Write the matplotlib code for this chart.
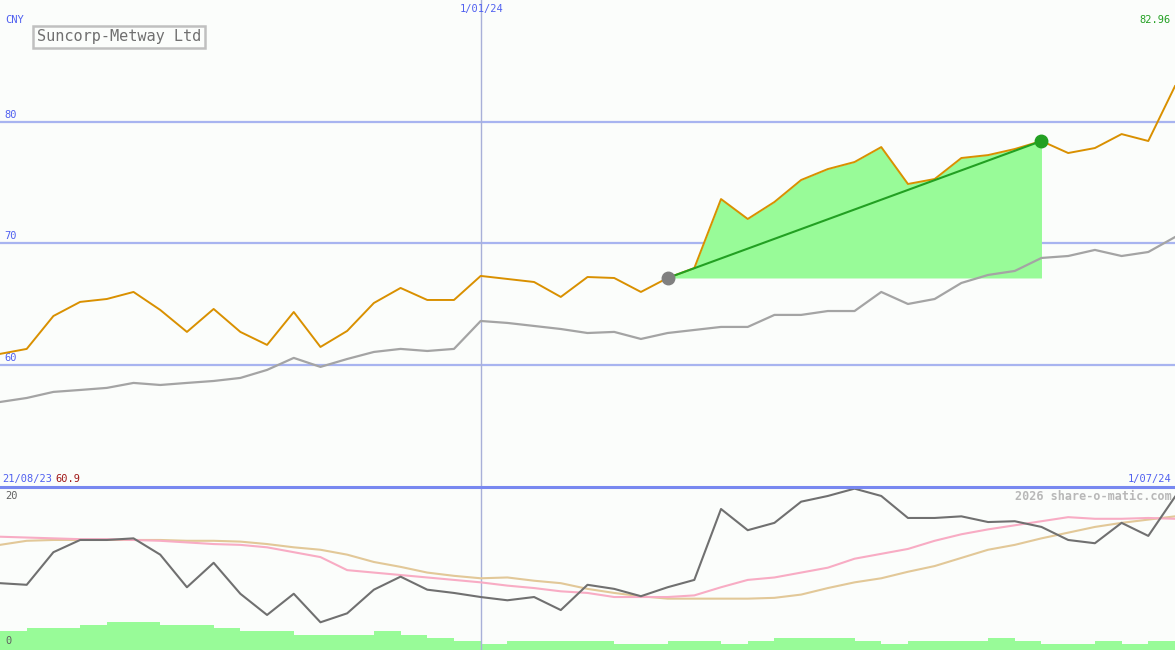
import numpy as np
import matplotlib.pyplot as plt

# weekly closes (orange) and comparison index (gray)
price = [60.91, 61.32, 64.03, 65.19, 65.43, 66.01, 64.53, 62.72, 64.61, 62.72,
         61.65, 64.36, 61.48, 62.80, 65.10, 66.34, 65.35, 65.35, 67.33, 67.08,
         66.83, 65.60, 67.24, 67.16, 66.01, 67.16, 67.98, 73.66, 72.02, 73.42,
         75.23, 76.13, 76.71, 77.94, 74.90, 75.31, 77.04, 77.28, 77.78, 78.44,
         77.45, 77.86, 79.01, 78.44, 82.96]
index_line = [56.95, 57.28, 57.78, 57.94, 58.11, 58.52, 58.35, 58.52, 58.68, 58.93,
              59.59, 60.58, 59.84, 60.49, 61.07, 61.32, 61.15, 61.32, 63.62, 63.46,
              63.21, 62.96, 62.63, 62.72, 62.14, 62.63, 62.88, 63.13, 63.13, 64.12,
              64.12, 64.44, 64.44, 66.01, 65.02, 65.43, 66.75, 67.41, 67.74, 68.81,
              68.97, 69.47, 68.97, 69.30, 70.53]

# lower panel indicator values (0..20 scale)
osc = [8.2, 8.0, 12.0, 13.5, 13.5, 13.7, 11.7, 7.7, 10.7, 6.9,
       4.3, 6.9, 3.4, 4.5, 7.4, 9.0, 7.4, 7.0, 6.5, 6.1,
       6.5, 4.9, 8.0, 7.5, 6.6, 7.7, 8.6, 17.3, 14.7, 15.6,
       18.2, 18.9, 19.8, 18.9, 16.2, 16.2, 16.4, 15.7, 15.8, 15.1,
       13.5, 13.1, 15.6, 14.0, 18.8]
ma_pink = [13.9, 13.8, 13.7, 13.6, 13.6, 13.5, 13.4, 13.2, 13.0, 12.9,
           12.6, 12.0, 11.4, 9.8, 9.5, 9.2, 8.9, 8.6, 8.3, 7.9,
           7.6, 7.2, 7.0, 6.5, 6.5, 6.5, 6.7, 7.7, 8.6, 8.9,
           9.5, 10.1, 11.2, 11.8, 12.4, 13.4, 14.2, 14.8, 15.3, 15.8,
           16.3, 16.1, 16.1, 16.2, 16.1]
ma_tan = [12.9, 13.4, 13.5, 13.5, 13.5, 13.5, 13.5, 13.4, 13.4, 13.3,
          13.0, 12.6, 12.3, 11.7, 10.8, 10.2, 9.5, 9.1, 8.8, 8.9,
          8.5, 8.2, 7.5, 7.0, 6.6, 6.3, 6.3, 6.3, 6.3, 6.4,
          6.8, 7.6, 8.3, 8.8, 9.6, 10.3, 11.3, 12.3, 12.9, 13.7,
          14.4, 15.1, 15.6, 16.0, 16.4]
volume = [6.3, 7.3, 7.3, 8.3, 9.3, 9.3, 8.3, 8.3, 7.3, 6.3,
          6.3, 5.0, 5.0, 5.0, 6.3, 5.0, 4.0, 3.0, 2.0, 3.0,
          3.0, 3.0, 3.0, 2.0, 2.0, 3.0, 3.0, 2.0, 3.0, 4.0,
          4.0, 4.0, 3.0, 2.0, 3.0, 3.0, 3.0, 4.0, 3.0, 2.0,
          2.0, 3.0, 2.0, 3.0]

x = np.arange(len(price))
i0, i1 = 25, 39      # start / end of highlighted trend
ivline = 18          # 1/01/24

bg = '#fbfdfb'
gridc = '#a8b4f0'
fig = plt.figure(figsize=(11.75, 6.5), dpi=100, facecolor=bg)
ax = fig.add_axes([0, 163/650, 1, 487/650], facecolor=bg)
ax2 = fig.add_axes([0, 0, 1, 163/650], facecolor=bg)

mono = 'DejaVu Sans Mono'
fs = 7.5

# top panel
for yv in [60, 70, 80]:
    ax.axhline(yv, color=gridc, lw=1.6, zorder=1)
    ax.text(0.004, yv + 0.2, str(yv), transform=ax.get_yaxis_transform(),
            color='#5060f0', fontsize=fs, family=mono, va='bottom', ha='left')
ax.axvline(ivline, color='#a8b0d8', lw=1, zorder=1)
ax.fill_between(x[i0:i1+1], price[i0], price[i0:i1+1], color='#98fb98', lw=0, zorder=2)
ax.plot(x, index_line, color='#a4a4a4', lw=1.6, zorder=3)
ax.plot(x, price, color='#d99000', lw=1.4, zorder=4)
ax.plot([x[i0], x[i1]], [price[i0], price[i1]], color='#22a022', lw=1.5, zorder=5)
ax.plot(x[i0], price[i0], 'o', color='#808080', ms=9, zorder=6)
ax.plot(x[i1], price[i1], 'o', color='#22a022', ms=9, zorder=6)
ax.set_xlim(0, len(price) - 1)
ax.set_ylim(49.95, 90.05)
ax.axis('off')

# bottom panel
axv = ax2.twinx()
axv.bar(x[:-1], volume, width=1.0, align='edge', color='#98fb98', lw=0)
axv.set_ylim(0, 54)
axv.axis('off')
ax2.set_zorder(axv.get_zorder() + 1)
ax2.patch.set_visible(False)
ax2.axvline(ivline, color='#a8b0d8', lw=1)
ax2.plot(x, ma_tan, color='#e2c898', lw=1.5)
ax2.plot(x, ma_pink, color='#f8acc4', lw=1.5)
ax2.plot(x, osc, color='#707070', lw=1.5)
ax2.set_xlim(0, len(price) - 1)
ax2.set_ylim(0, 20)
ax2.axis('off')

# separator line between panels
fig.add_artist(plt.Line2D([0, 1], [163/650, 163/650], color='#7888f0', lw=2.2))

def px(xp, yp):
    return xp / 1175, 1 - yp / 650

fig.text(*px(5, 20), 'CNY', color='#5060f0', fontsize=fs, family=mono, va='center')
fig.text(*px(482, 9), '1/01/24', color='#5060f0', fontsize=fs, family=mono, va='center', ha='center')
fig.text(*px(1171, 20), '82.96', color='#22a022', fontsize=fs, family=mono, va='center', ha='right')
fig.text(*px(2, 479), '21/08/23', color='#5060f0', fontsize=fs, family=mono, va='center')
fig.text(*px(55, 479), '60.9', color='#a01818', fontsize=fs, family=mono, va='center')
fig.text(*px(1171, 479), '1/07/24', color='#5060f0', fontsize=fs, family=mono, va='center', ha='right')
fig.text(*px(5, 496), '20', color='#606060', fontsize=fs, family=mono, va='center')
fig.text(*px(5, 641), '0', color='#606060', fontsize=fs, family=mono, va='center')
fig.text(*px(1172, 496), '2026 share-o-matic.com', color='#b8b8b8', fontsize=8.5,
         family=mono, weight='bold', va='center', ha='right')
fig.text(*px(37, 37), 'Suncorp-Metway Ltd', color='#707070', fontsize=11, family=mono,
         va='center', ha='left',
         bbox=dict(boxstyle='square,pad=0.25', fc=bg, ec='#c0c0c0', lw=1.8))

fig.savefig('out.png', dpi=100, facecolor=bg)
